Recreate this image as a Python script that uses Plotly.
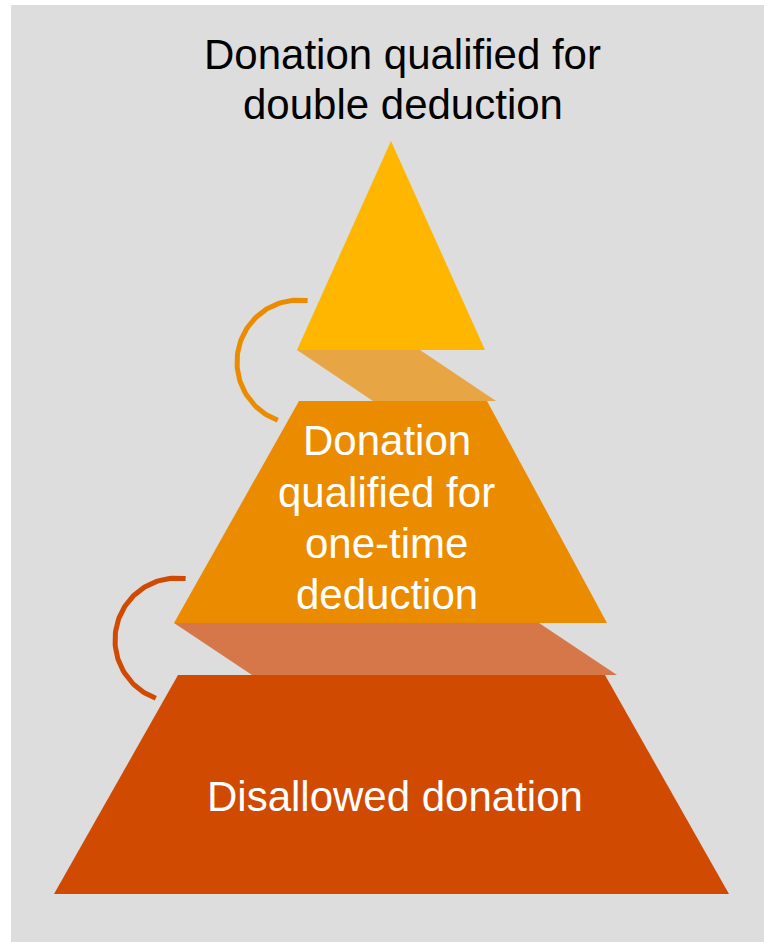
import numpy as np
import plotly.graph_objects as go

# ---- data ----
level_lines = [["Donation qualified for", "double deduction"],
               ["Donation", "qualified for", "one-time", "deduction"],
               ["Disallowed donation"]]
level_colors = ["#FFB600", "#EB8C00", "#D04A02"]
label_colors = ["#000000", "#FFFFFF", "#FFFFFF"]
shadow_colors = ["#E8A544", "#D6774A"]
arc_colors = ["#EB8C00", "#D04A02"]

# geometry (pixel-like diagram units)
lvl_top = [141, 401, 675]
lvl_bot = [350, 623, 894]
lvl_tl = [391, 299, 178]
lvl_tr = [391, 487, 605]
lvl_bl = [297, 174, 54]
lvl_br = [485, 607, 729]
label_x = [402.5, 386.5, 394.5]
label_line_y = [[54, 104], [440, 492, 543, 594], [796]]

# shadows: top-left, top-right, bottom-left, bottom-right x
sh_tl = [297, 174]
sh_tr = [420, 539]
sh_bl = [373, 252]
sh_br = [496, 617]

arc_cx = [299, 177]
arc_cy = [362, 640]
arc_r = [62, 62]
arc_a0 = [82, 82]
arc_a1 = [250, 250]

fig = go.Figure()

# background panel
fig.add_trace(go.Scatter(x=[11, 770, 770, 11, 11], y=[5, 5, 950, 950, 5],
                         fill="toself", fillcolor="#DDDDDD", mode="none",
                         hoverinfo="skip", showlegend=False))

# shadows
for i in range(2):
    fig.add_trace(go.Scatter(
        x=[sh_tl[i], sh_tr[i], sh_br[i], sh_bl[i], sh_tl[i]],
        y=[lvl_bot[i], lvl_bot[i], lvl_top[i + 1], lvl_top[i + 1], lvl_bot[i]],
        fill="toself", fillcolor=shadow_colors[i], mode="none",
        hoverinfo="skip", showlegend=False))

# levels
for i in range(3):
    fig.add_trace(go.Scatter(
        x=[lvl_tl[i], lvl_tr[i], lvl_br[i], lvl_bl[i], lvl_tl[i]],
        y=[lvl_top[i], lvl_top[i], lvl_bot[i], lvl_bot[i], lvl_top[i]],
        fill="toself", fillcolor=level_colors[i], mode="none",
        hoverinfo="skip", showlegend=False))

# arcs
for i in range(2):
    t = np.radians(np.linspace(arc_a0[i], arc_a1[i], 80))
    fig.add_trace(go.Scatter(
        x=arc_cx[i] + arc_r[i] * np.cos(t),
        y=arc_cy[i] - arc_r[i] * np.sin(t),
        mode="lines", line=dict(color=arc_colors[i], width=5),
        hoverinfo="skip", showlegend=False))

for i in range(3):
    for line, ly in zip(level_lines[i], label_line_y[i]):
        fig.add_annotation(x=label_x[i], y=ly, text=line,
                           showarrow=False, xanchor="center", yanchor="middle",
                           font=dict(family="Liberation Sans, Arial", size=42,
                                     color=label_colors[i]))

fig.update_layout(
    width=764, height=942,
    margin=dict(l=0, r=0, t=0, b=0),
    paper_bgcolor="#FFFFFF", plot_bgcolor="#FFFFFF",
    xaxis=dict(range=[0, 764], visible=False, fixedrange=True),
    yaxis=dict(range=[942, 0], visible=False, fixedrange=True),
)

fig.write_html("out.html",
               config={"displayModeBar": False, "staticPlot": True},
               post_script="document.body.style.margin='0';"
                           "document.body.style.overflow='hidden';")
